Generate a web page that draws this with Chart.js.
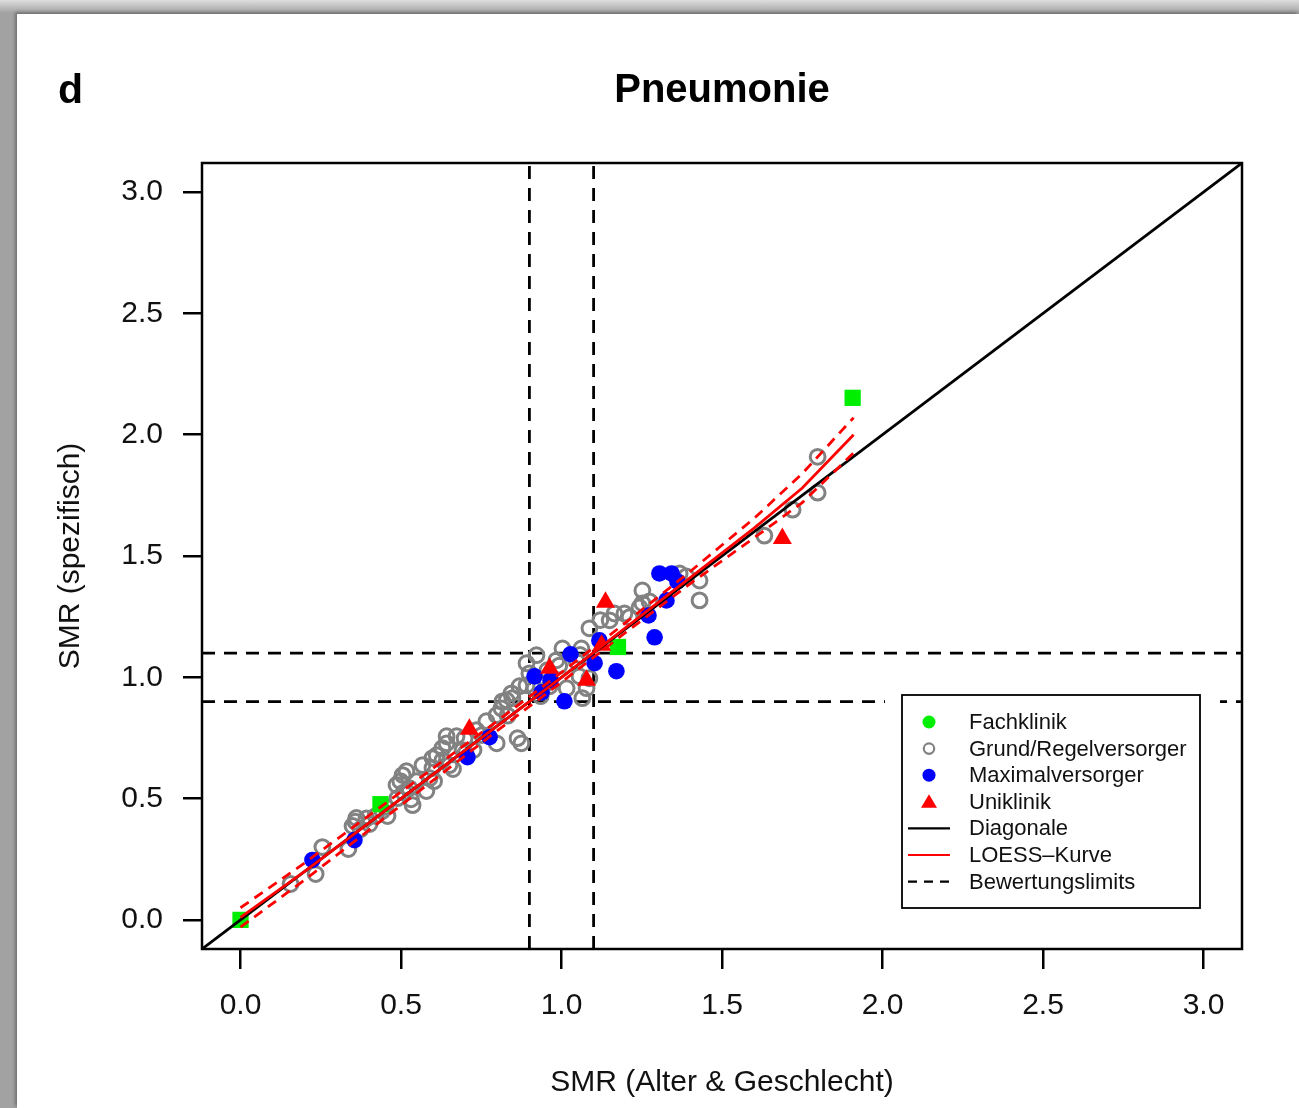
<!DOCTYPE html>
<html>
<head>
<meta charset="utf-8">
<title>Pneumonie</title>
<script src="https://cdn.jsdelivr.net/npm/chart.js@4.4.1/dist/chart.umd.min.js"></script>
<style>
  html, body { margin: 0; padding: 0; }
  body {
    width: 1299px; height: 1108px; overflow: hidden; position: relative;
    background: linear-gradient(#dedede, #a2a2a2 13px);
  }
  .sheet {
    position: absolute; left: 17px; top: 14px; right: 0; bottom: 0;
    background: #fff;
    box-shadow: -2px -2px 3px rgba(0, 0, 0, 0.3);
  }
  canvas { display: block; }
</style>
</head>
<body>
<div class="sheet">
  <canvas id="chart" width="1282" height="1094"></canvas>
</div>
<script>
// Achsen
const axisMin = -0.12;
const axisMax = 3.12;
const tickValues = [0, 0.5, 1, 1.5, 2, 2.5, 3];
const limits = [0.9, 1.1];

// Fachklinik
const fachX = [0, 0.436, 1.176, 1.907];
const fachY = [0, 0.477, 1.125, 2.152];

// Grund/Regelversorger
const grundX = [
  0.156, 0.234, 0.255, 0.336, 0.349, 0.361, 0.374, 0.402, 0.421, 0.442,
  0.458, 0.486, 0.498, 0.505, 0.517, 0.526, 0.536, 0.489, 0.548, 0.567,
  0.579, 0.589, 0.598, 0.598, 0.611, 0.629, 0.629, 0.642, 0.642, 0.651,
  0.673, 0.692, 0.698, 0.701, 0.726, 0.735, 0.766, 0.798, 0.813, 0.829,
  0.844, 0.798, 0.863, 0.875, 0.816, 0.847, 0.869, 0.891, 0.900, 0.891,
  0.922, 0.963, 0.984, 1.003, 1.047, 1.062, 1.056, 1.087, 1.078, 1.065,
  1.016, 1.087, 1.150, 1.165, 1.196, 1.252, 1.252, 1.274, 1.368, 1.389,
  1.430, 1.430, 1.632, 1.720, 1.798, 1.798, 0.935, 0.916, 0.956,
  0.358, 0.392, 0.508, 0.531, 0.603, 0.662, 0.752, 0.832, 0.952, 0.993,
  1.058, 1.212, 1.243, 1.121, 0.452,
];
const grundY = [
  0.148, 0.189, 0.300, 0.292, 0.387, 0.420, 0.374, 0.395, 0.428, 0.449,
  0.428, 0.556, 0.572, 0.597, 0.613, 0.543, 0.473, 0.502, 0.572, 0.638,
  0.531, 0.584, 0.626, 0.667, 0.679, 0.708, 0.658, 0.757, 0.728, 0.638,
  0.757, 0.700, 0.749, 0.687, 0.700, 0.782, 0.819, 0.844, 0.872, 0.905,
  0.934, 0.728, 0.749, 0.728, 0.901, 0.914, 0.963, 0.967, 1.016, 1.058,
  1.091, 0.963, 1.070, 1.119, 1.066, 1.119, 1.004, 0.996, 0.955, 0.914,
  0.955, 1.202, 1.235, 1.263, 1.263, 1.358, 1.305, 1.313, 1.428, 1.416,
  1.399, 1.317, 1.584, 1.691, 1.761, 1.909, 0.922, 0.955, 1.029,
  0.405, 0.418, 0.525, 0.497, 0.572, 0.622, 0.762, 0.842, 0.975, 1.048,
  1.092, 1.248, 1.288, 1.236, 0.466,
];

// Maximalversorger
const maxX = [
  0.224, 0.355, 0.707, 0.776, 1.305, 1.343, 1.361, 1.327, 1.271, 1.290,
  1.171, 1.118, 1.028, 1.009, 0.938, 0.916, 1.103, 0.966,
];
const maxY = [
  0.247, 0.329, 0.671, 0.753, 1.428, 1.428, 1.395, 1.317, 1.255, 1.165,
  1.025, 1.152, 1.095, 0.901, 0.938, 1.004, 1.058, 0.988,
];

// Uniklinik
const uniX = [1.137, 1.078, 1.688, 0.713, 0.963, 1.125];
const uniY = [1.309, 0.988, 1.572, 0.786, 1.037, 1.132];

// LOESS-Kurve mit Band
const loessX = [0, 0.2, 0.4, 0.6, 0.8, 1.0, 1.2, 1.4, 1.6, 1.75, 1.91];
const loessY = [0.01, 0.2, 0.4, 0.6, 0.8, 1.0, 1.205, 1.41, 1.615, 1.78, 2.0];
const loessUpper = [0.05, 0.235, 0.43, 0.625, 0.82, 1.02, 1.225, 1.435, 1.655, 1.84, 2.07];
const loessLower = [-0.03, 0.165, 0.37, 0.575, 0.78, 0.98, 1.185, 1.385, 1.575, 1.72, 1.925];

const legendOrder = [
  "Fachklinik", "Grund/Regelversorger", "Maximalversorger", "Uniklinik",
  "Diagonale", "LOESS–Kurve", "Bewertungslimits",
];

const FONT = "'Liberation Sans', Arial, Helvetica, sans-serif";

function toPoints(xs, ys) {
  return xs.map((x, i) => ({ x: x, y: ys[i] }));
}

const limitLines = [];
limits.forEach((v, i) => {
  limitLines.push({
    label: i === 0 ? "Bewertungslimits" : "",
    data: [{ x: v, y: axisMin }, { x: v, y: axisMax }],
  });
  limitLines.push({
    label: "",
    data: [{ x: axisMin, y: v }, { x: axisMax, y: v }],
  });
});

const datasets = [
  {
    label: "LOESS–Kurve",
    data: toPoints(loessX, loessY),
    showLine: true, pointRadius: 0, borderColor: "#ff0000", borderWidth: 2.8,
    order: 1,
  },
  {
    label: "",
    data: toPoints(loessX, loessUpper),
    showLine: true, pointRadius: 0, borderColor: "#ff0000", borderWidth: 2.8,
    borderDash: [10, 7], order: 2,
  },
  {
    label: "",
    data: toPoints(loessX, loessLower),
    showLine: true, pointRadius: 0, borderColor: "#ff0000", borderWidth: 2.8,
    borderDash: [10, 7], order: 2,
  },
  {
    label: "Diagonale",
    data: [{ x: axisMin, y: axisMin }, { x: axisMax, y: axisMax }],
    showLine: true, pointRadius: 0, borderColor: "#000", borderWidth: 2.8,
    order: 3,
  },
  {
    label: "Uniklinik",
    data: toPoints(uniX, uniY),
    pointStyle: "triangle", pointRadius: 11, backgroundColor: "#ff0000",
    borderColor: "#ff0000", borderWidth: 0, legendStyle: "triangle", order: 4,
  },
  {
    label: "Fachklinik",
    data: toPoints(fachX, fachY),
    pointStyle: "rect", pointRadius: 11.5, backgroundColor: "#00ee00",
    borderColor: "#00ee00", borderWidth: 0, legendStyle: "dot", order: 5,
  },
  {
    label: "Maximalversorger",
    data: toPoints(maxX, maxY),
    pointStyle: "circle", pointRadius: 8.3, backgroundColor: "#0000ff",
    borderColor: "#0000ff", borderWidth: 0, legendStyle: "dot", order: 6,
  },
  {
    label: "Grund/Regelversorger",
    data: toPoints(grundX, grundY),
    pointStyle: "circle", pointRadius: 7.4, backgroundColor: "rgba(0,0,0,0)",
    borderColor: "#828282", borderWidth: 3, legendStyle: "ring", order: 7,
  },
].concat(limitLines.map(l => ({
  label: l.label,
  data: l.data,
  showLine: true, pointRadius: 0, borderColor: "#000", borderWidth: 2.8,
  borderDash: [13, 9], order: 8,
})));

// Rahmen um die Plotfläche, Panelbuchstabe und Legende
const frame = {
  id: "frame",
  afterDatasetsDraw(chart) {
    const { ctx, chartArea: a } = chart;
    ctx.save();
    ctx.strokeStyle = "#000";
    ctx.lineWidth = 2.5;
    ctx.strokeRect(a.left, a.top, a.right - a.left, a.bottom - a.top);
    ctx.restore();
  },
  afterDraw(chart) {
    const ctx = chart.ctx;
    ctx.save();
    ctx.fillStyle = "#000";
    ctx.font = "bold 41px " + FONT;
    ctx.textBaseline = "alphabetic";
    ctx.textAlign = "left";
    ctx.fillText("d", 41, 89);

    // Legende
    const bx = 885, by = 681, bw = 298, bh = 213;
    ctx.fillStyle = "#fff";
    ctx.fillRect(868, 672, 335, 226);
    ctx.strokeStyle = "#000";
    ctx.lineWidth = 1.8;
    ctx.strokeRect(bx, by, bw, bh);

    const symX = 912, textX = 952, startY = 708, step = 26.6;
    ctx.font = "22px " + FONT;
    ctx.textBaseline = "middle";
    legendOrder.forEach((label, i) => {
      const ds = chart.data.datasets.find(d => d.label === label);
      const y = startY + i * step;
      ctx.save();
      if (ds.showLine) {
        ctx.strokeStyle = ds.borderColor;
        ctx.lineWidth = 2.2;
        ctx.setLineDash(ds.borderDash ? [9, 7] : []);
        ctx.beginPath();
        ctx.moveTo(symX - 21, y);
        ctx.lineTo(symX + 21, y);
        ctx.stroke();
      } else if (ds.legendStyle === "triangle") {
        ctx.fillStyle = ds.backgroundColor;
        ctx.beginPath();
        ctx.moveTo(symX, y - 7.5);
        ctx.lineTo(symX + 8, y + 6);
        ctx.lineTo(symX - 8, y + 6);
        ctx.closePath();
        ctx.fill();
      } else if (ds.legendStyle === "ring") {
        ctx.strokeStyle = ds.borderColor;
        ctx.lineWidth = 2.2;
        ctx.beginPath();
        ctx.arc(symX, y, 5.2, 0, Math.PI * 2);
        ctx.stroke();
      } else {
        ctx.fillStyle = ds.backgroundColor;
        ctx.beginPath();
        ctx.arc(symX, y, 6.5, 0, Math.PI * 2);
        ctx.fill();
      }
      ctx.restore();
      ctx.fillStyle = "#111";
      ctx.fillText(label, textX, y + 1);
    });
    ctx.restore();
  },
};

const tickFont = { family: FONT, size: 30, lineHeight: 1.2 };

new Chart(document.getElementById("chart"), {
  type: "scatter",
  data: { datasets: datasets },
  plugins: [frame],
  options: {
    responsive: false,
    devicePixelRatio: 1,
    animation: false,
    events: [],
    layout: { padding: { left: 0, right: 57, top: 0, bottom: 0 } },
    scales: {
      x: {
        type: "linear",
        min: axisMin,
        max: axisMax,
        afterBuildTicks: s => { s.ticks = tickValues.map(v => ({ value: v })); },
        afterFit: s => { s.height = 159; },
        ticks: { color: "#111", font: tickFont, padding: 19, callback: v => v.toFixed(1) },
        grid: { drawOnChartArea: false, color: "#000", lineWidth: 2.5, tickLength: 20 },
        border: { display: false },
        title: {
          display: true, text: "SMR (Alter & Geschlecht)", color: "#111",
          font: tickFont, padding: { top: 0, bottom: 7 },
        },
      },
      y: {
        type: "linear",
        min: axisMin,
        max: axisMax,
        afterBuildTicks: s => { s.ticks = tickValues.map(v => ({ value: v })); },
        afterFit: s => { s.width = 185; },
        ticks: { color: "#111", font: tickFont, padding: 20, callback: v => v.toFixed(1) },
        grid: { drawOnChartArea: false, color: "#000", lineWidth: 2.5, tickLength: 19 },
        border: { display: false },
        title: {
          display: true, text: "SMR (spezifisch)", color: "#111",
          font: tickFont, padding: { top: 36, bottom: 0 },
        },
      },
    },
    plugins: {
      legend: { display: false },
      tooltip: { enabled: false },
      title: {
        display: true,
        text: "Pneumonie",
        fullSize: false,
        color: "#000",
        font: { family: FONT, size: 40, weight: "bold", lineHeight: 1.2 },
        padding: { top: 53, bottom: 48 },
      },
    },
  },
});
</script>
</body>
</html>
